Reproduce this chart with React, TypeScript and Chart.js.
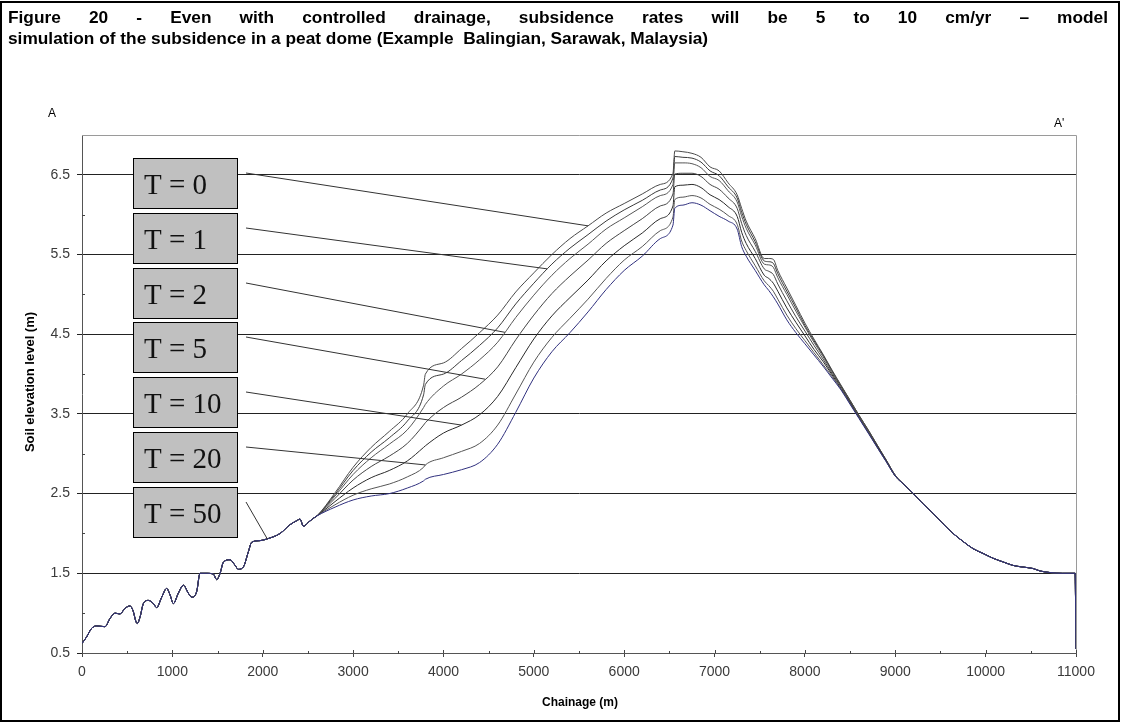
import React, { useEffect, useRef } from "react";
import { Chart, registerables } from "chart.js";
Chart.register(...registerables);

const titleLine1 = "Figure 20 - Even with controlled drainage, subsidence rates will be 5 to 10 cm/yr – model";
const titleLine2 = "simulation of the subsidence in a peat dome (Example  Balingian, Sarawak, Malaysia)";
const yAxisTitle = "Soil elevation level (m)";
const xAxisTitle = "Chainage (m)";
const sectionStart = "A";
const sectionEnd = "A'";

const seriesLabels = ["T = 0", "T = 1", "T = 2", "T = 5", "T = 10", "T = 20", "T = 50"];
const seriesColors = ["#4a4a4a", "#3a3a3a", "#555555", "#444444", "#2a2a2a", "#555555", "#30307e"];
const leaderChainage = [5600, 5150, 4680, 4460, 4200, 3800, 2050];

const xMin = 0;
const xMax = 11000;
const xStep = 1000;
const yMin = 0.5;
const yMax = 7.0;
const yTickValues = [0.5, 1.5, 2.5, 3.5, 4.5, 5.5, 6.5];
const yMinorValues = [1, 2, 3, 4, 5, 6];
const xMajorValues = [0, 1000, 2000, 3000, 4000, 5000, 6000, 7000, 8000, 9000, 10000, 11000];
const xMinorValues = [500, 1500, 2500, 3500, 4500, 5500, 6500, 7500, 8500, 9500, 10500];

// shared by all curves (before the dome fans out)
const sharedLeftX = [0, 50, 107, 163, 255, 308, 365, 420, 476, 531, 568, 595, 612, 642, 679, 734, 790, 826, 882, 937, 974, 1011, 1066, 1122, 1177, 1214, 1269, 1306, 1380, 1454, 1490, 1528, 1565, 1638, 1694, 1730, 1786, 1841, 1878, 1970, 2044, 2192, 2302, 2376, 2413, 2450, 2505, 2560];
const sharedLeftY = [0.62, 0.7, 0.81, 0.84, 0.83, 0.93, 1.0, 0.99, 1.06, 1.09, 1.02, 0.9, 0.87, 0.95, 1.12, 1.16, 1.12, 1.07, 1.2, 1.31, 1.23, 1.12, 1.25, 1.35, 1.25, 1.2, 1.27, 1.5, 1.5, 1.49, 1.42, 1.5, 1.64, 1.67, 1.6, 1.55, 1.58, 1.77, 1.89, 1.91, 1.93, 2.0, 2.11, 2.16, 2.18, 2.09, 2.14, 2.19];

// fan region, one array per curve
const fanX = [2600, 2800, 3000, 3200, 3400, 3600, 3780, 3800, 4000, 4200, 4400, 4600, 4800, 5000, 5200, 5400, 5600, 5800, 6000, 6200, 6400, 6540, 6560, 6650, 6750, 6850, 6950, 7050, 7150, 7250, 7300, 7350, 7450, 7550, 7600, 7650, 7700, 7800, 7900, 8000, 8100, 8200, 8300, 8400, 8500, 8600, 8700, 8800, 8900, 9000];
const t0Fan = [2.22, 2.51, 2.83, 3.08, 3.28, 3.5, 3.86, 4.0, 4.14, 4.32, 4.52, 4.74, 5.03, 5.27, 5.5, 5.7, 5.86, 6.02, 6.14, 6.26, 6.38, 6.52, 6.8, 6.79, 6.77, 6.72, 6.6, 6.55, 6.4, 6.25, 6.08, 5.92, 5.7, 5.45, 5.45, 5.44, 5.3, 5.08, 4.86, 4.64, 4.44, 4.25, 4.05, 3.86, 3.67, 3.48, 3.3, 3.11, 2.92, 2.73];
const t1Fan = [2.22, 2.49, 2.79, 3.02, 3.2, 3.41, 3.74, 3.87, 4.0, 4.17, 4.36, 4.58, 4.88, 5.14, 5.38, 5.58, 5.75, 5.92, 6.06, 6.18, 6.31, 6.46, 6.73, 6.72, 6.71, 6.66, 6.55, 6.49, 6.35, 6.21, 6.03, 5.88, 5.66, 5.42, 5.41, 5.39, 5.26, 5.04, 4.83, 4.61, 4.42, 4.24, 4.04, 3.85, 3.67, 3.48, 3.3, 3.11, 2.92, 2.73];
const t2Fan = [2.22, 2.47, 2.74, 2.95, 3.12, 3.3, 3.58, 3.62, 3.85, 4.0, 4.18, 4.4, 4.71, 4.99, 5.24, 5.45, 5.63, 5.82, 5.96, 6.1, 6.24, 6.38, 6.65, 6.65, 6.64, 6.59, 6.48, 6.43, 6.3, 6.16, 5.98, 5.83, 5.62, 5.38, 5.37, 5.34, 5.21, 5.0, 4.79, 4.59, 4.4, 4.22, 4.03, 3.85, 3.66, 3.47, 3.29, 3.1, 2.92, 2.73];
const t5Fan = [2.22, 2.44, 2.67, 2.84, 2.97, 3.13, 3.36, 3.39, 3.58, 3.71, 3.87, 4.09, 4.43, 4.74, 5.01, 5.23, 5.43, 5.64, 5.8, 5.95, 6.11, 6.26, 6.51, 6.52, 6.52, 6.48, 6.38, 6.32, 6.21, 6.08, 5.89, 5.74, 5.54, 5.32, 5.29, 5.25, 5.13, 4.92, 4.72, 4.54, 4.36, 4.19, 4.01, 3.84, 3.65, 3.46, 3.28, 3.1, 2.91, 2.72];
const t10Fan = [2.22, 2.4, 2.57, 2.7, 2.79, 2.91, 3.08, 3.1, 3.26, 3.36, 3.49, 3.72, 4.08, 4.44, 4.73, 4.96, 5.18, 5.42, 5.61, 5.77, 5.95, 6.11, 6.35, 6.37, 6.38, 6.34, 6.25, 6.19, 6.1, 5.98, 5.78, 5.64, 5.45, 5.24, 5.2, 5.14, 5.04, 4.83, 4.65, 4.48, 4.31, 4.16, 3.99, 3.82, 3.64, 3.45, 3.27, 3.09, 2.91, 2.72];
const t20Fan = [2.22, 2.36, 2.48, 2.56, 2.62, 2.71, 2.83, 2.86, 2.95, 3.03, 3.13, 3.36, 3.75, 4.15, 4.46, 4.7, 4.94, 5.2, 5.43, 5.6, 5.8, 5.97, 6.19, 6.22, 6.24, 6.21, 6.13, 6.07, 5.99, 5.88, 5.67, 5.55, 5.36, 5.17, 5.11, 5.04, 4.94, 4.74, 4.57, 4.42, 4.27, 4.12, 3.97, 3.81, 3.63, 3.45, 3.27, 3.08, 2.9, 2.72];
const t50Fan = [2.22, 2.33, 2.42, 2.47, 2.5, 2.57, 2.66, 2.68, 2.74, 2.8, 2.89, 3.12, 3.52, 3.95, 4.28, 4.52, 4.78, 5.06, 5.3, 5.48, 5.7, 5.87, 6.08, 6.12, 6.15, 6.12, 6.05, 5.98, 5.92, 5.82, 5.6, 5.48, 5.3, 5.12, 5.05, 4.97, 4.88, 4.68, 4.52, 4.38, 4.24, 4.1, 3.95, 3.8, 3.62, 3.44, 3.26, 3.08, 2.9, 2.72];

// shared by all curves (lower flank of the dome)
const sharedRightX = [9100, 9200, 9300, 9420, 9530, 9640, 9750, 9860, 9970, 10080, 10200, 10300, 10400, 10525, 10600, 10710, 10850, 10990, 11000];
const sharedRightY = [2.61, 2.5, 2.38, 2.25, 2.12, 2.0, 1.9, 1.81, 1.75, 1.69, 1.64, 1.6, 1.58, 1.56, 1.53, 1.51, 1.5, 1.5, 0.55];

const fanSeries = [t0Fan, t1Fan, t2Fan, t5Fan, t10Fan, t20Fan, t50Fan];

function buildPoints(fan: number[]) {
  const pts: { x: number; y: number }[] = [];
  sharedLeftX.forEach((x, i) => pts.push({ x, y: sharedLeftY[i] }));
  fanX.forEach((x, i) => pts.push({ x, y: fan[i] }));
  sharedRightX.forEach((x, i) => pts.push({ x, y: sharedRightY[i] }));
  return pts;
}

function valueAt(pts: { x: number; y: number }[], x: number) {
  for (let i = 0; i < pts.length - 1; i++) {
    const a = pts[i], b = pts[i + 1];
    if (a.x <= x && b.x >= x) {
      if (b.x === a.x) return a.y;
      return a.y + ((x - a.x) / (b.x - a.x)) * (b.y - a.y);
    }
  }
  return pts[pts.length - 1].y;
}

const SANS = "'Liberation Sans', Arial, sans-serif";
const SERIF = "'Liberation Serif', 'Times New Roman', serif";

export default function App() {
  const ref = useRef<HTMLCanvasElement | null>(null);

  useEffect(() => {
    const canvas = ref.current;
    if (!canvas) return;
    const seriesPoints = fanSeries.map((f) => buildPoints(f));

    const decor = {
      id: "decor",
      beforeDatasetsDraw(chart: any) {
        const { ctx, chartArea: ca } = chart;
        const xs = chart.scales.x;
        const ys = chart.scales.y;
        ctx.save();
        ctx.strokeStyle = "#9a9a9a";
        ctx.lineWidth = 1;
        ctx.beginPath();
        ctx.moveTo(ca.left, Math.round(ca.top) + 0.5);
        ctx.lineTo(Math.round(ca.right) + 0.5, Math.round(ca.top) + 0.5);
        ctx.lineTo(Math.round(ca.right) + 0.5, ca.bottom);
        ctx.stroke();
        ctx.strokeStyle = "#444";
        ctx.beginPath();
        xMinorValues.forEach((v) => {
          const px = Math.round(xs.getPixelForValue(v)) + 0.5;
          ctx.moveTo(px, ca.bottom - 2);
          ctx.lineTo(px, ca.bottom + 1);
        });
        xMajorValues.forEach((v) => {
          const px = Math.round(xs.getPixelForValue(v)) + 0.5;
          ctx.moveTo(px, ca.bottom - 3);
          ctx.lineTo(px, ca.bottom);
        });
        yMinorValues.forEach((v) => {
          const py = Math.round(ys.getPixelForValue(v)) + 0.5;
          ctx.moveTo(ca.left, py);
          ctx.lineTo(ca.left + 3, py);
        });
        ctx.stroke();
        ctx.restore();
      },
      afterDraw(chart: any) {
        const { ctx, chartArea: ca } = chart;
        const xs = chart.scales.x;
        const ys = chart.scales.y;
        ctx.save();
        ctx.strokeStyle = "#000";
        ctx.lineWidth = 2;
        ctx.strokeRect(1, 2, 1118, 719);

        ctx.fillStyle = "#000";
        ctx.font = `bold 17.3px ${SANS}`;
        ctx.textBaseline = "alphabetic";
        ctx.textAlign = "left";
        const words = titleLine1.split(" ");
        const widths = words.map((w) => ctx.measureText(w).width);
        const total = widths.reduce((a, b) => a + b, 0);
        const gap = (1100 - total) / (words.length - 1);
        let cx = 8;
        words.forEach((w, i) => {
          ctx.fillText(w, cx, 23);
          cx += widths[i] + gap;
        });
        ctx.fillText(titleLine2, 8, 44);

        ctx.font = `12px ${SANS}`;
        ctx.fillText(sectionStart, 48, 117);
        ctx.fillText(sectionEnd, 1054, 127);

        ctx.textAlign = "center";
        ctx.textBaseline = "middle";
        ctx.font = `bold 12px ${SANS}`;
        ctx.fillText(xAxisTitle, (ca.left + ca.right) / 2 + 1, 703);
        ctx.save();
        ctx.translate(30, 382);
        ctx.rotate(-Math.PI / 2);
        ctx.font = `bold 13px ${SANS}`;
        ctx.fillText(yAxisTitle, 0, 0);
        ctx.restore();

        const boxLeft = 133;
        const boxW = 104;
        const boxH = 50;
        const boxTop0 = 158;
        const boxStep = 54.8;
        seriesLabels.forEach((lab, i) => {
          const top = Math.round(boxTop0 + i * boxStep);
          ctx.fillStyle = "#c0c0c0";
          ctx.fillRect(boxLeft, top, boxW, boxH);
          ctx.strokeStyle = "#000";
          ctx.lineWidth = 1;
          ctx.strokeRect(boxLeft + 0.5, top + 0.5, boxW, boxH);
          ctx.fillStyle = "#111";
          ctx.font = `29px ${SERIF}`;
          ctx.textAlign = "left";
          ctx.textBaseline = "alphabetic";
          ctx.fillText(lab, 144, top + 36);
          const tx = leaderChainage[i];
          const ty = valueAt(seriesPoints[i], tx);
          ctx.strokeStyle = "#333";
          ctx.beginPath();
          ctx.moveTo(boxLeft + boxW + 9, top + 15);
          ctx.lineTo(xs.getPixelForValue(tx), ys.getPixelForValue(ty));
          ctx.stroke();
        });
        ctx.restore();
      },
    };

    const chart = new Chart(canvas, {
      type: "line",
      data: {
        datasets: seriesLabels.map((lab, i) => ({
          label: lab,
          data: seriesPoints[i],
          borderColor: seriesColors[i],
          borderWidth: 1,
          pointRadius: 0,
          cubicInterpolationMode: "monotone",
          fill: false,
          order: seriesLabels.length - i,
        })),
      },
      options: {
        animation: false,
        responsive: false,
        devicePixelRatio: 1,
        layout: { padding: { left: 0, right: 47, top: 135, bottom: 0 } },
        plugins: { legend: { display: false }, tooltip: { enabled: false }, title: { display: false } },
        scales: {
          x: {
            type: "linear",
            min: xMin,
            max: xMax,
            afterFit: (s: any) => { s.height = 72; },
            ticks: {
              stepSize: xStep,
              autoSkip: false,
              maxRotation: 0,
              padding: 7,
              color: "#3a3a3a",
              font: { family: SANS, size: 14 },
              callback: (v: any) => String(v),
            },
            grid: { drawOnChartArea: false, drawTicks: true, tickLength: 4, color: "#444" },
            border: { color: "#555", width: 1 },
          },
          y: {
            type: "linear",
            min: yMin,
            max: yMax,
            afterFit: (s: any) => { s.width = 82; },
            afterBuildTicks: (s: any) => { s.ticks = yTickValues.map((v) => ({ value: v })); },
            ticks: {
              padding: 7,
              color: "#3a3a3a",
              font: { family: SANS, size: 14 },
              callback: (v: any) => Number(v).toFixed(1),
            },
            grid: { color: "#222", lineWidth: 1, tickLength: 5 },
            border: { color: "#555", width: 1 },
          },
        },
      },
      plugins: [decor],
    });
    return () => chart.destroy();
  }, []);

  return (
    <div style={{ position: "absolute", left: 0, top: 0, width: 1123, height: 725, background: "#fff" }}>
      <canvas ref={ref} width={1123} height={725} style={{ display: "block" }} />
    </div>
  );
}
